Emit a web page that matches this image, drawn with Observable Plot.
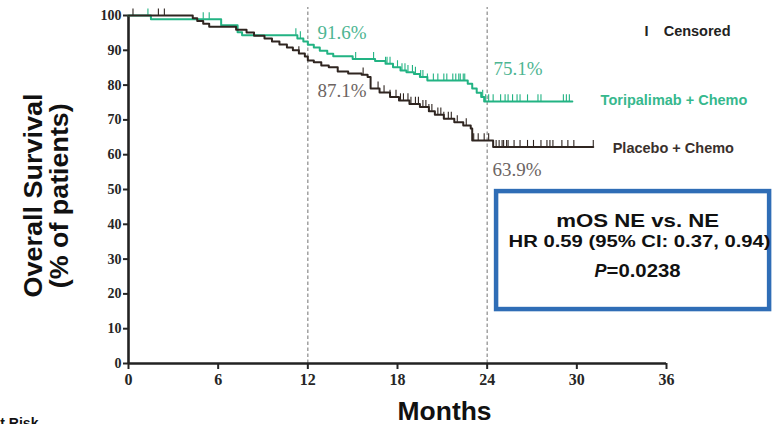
<!DOCTYPE html>
<html><head><meta charset="utf-8">
<script src="https://cdn.jsdelivr.net/npm/d3@7"></script>
<script src="https://cdn.jsdelivr.net/npm/@observablehq/plot@0.6"></script>
<style>body{margin:0;background:#fff;}</style>
</head><body><div id="chart"></div>
<script>
// ---- data ----
const months = [0, 6, 12, 18, 24, 30, 36];
const survivalTicks = [0, 10, 20, 30, 40, 50, 60, 70, 80, 90, 100];
const landmarkMonths = [12, 24];
const armNames = ["Toripalimab + Chemo", "Placebo + Chemo"];

const toriTimes = [0, 1.5, 6.2, 7.3, 7.6, 11.3, 11.7, 12.0, 12.4, 12.8, 13.3, 13.7, 15.0, 16.5, 17.2, 17.7, 18.2, 18.6, 19.1, 19.5, 20.0, 22.7, 23.0, 23.3, 23.6, 23.8];
const toriSurv  = [100, 98.9, 97.2, 95.2, 94.3, 93.4, 92.5, 91.6, 90.8, 89.9, 89.0, 88.3, 87.5, 86.9, 86.1, 85.1, 84.2, 83.7, 83.2, 82.3, 81.3, 80.4, 79.0, 77.8, 76.6, 75.3];
const toriLastFollowUp = 29.7;
const toriCensor = [1.3, 5.0, 5.4, 11.2, 11.5, 15.2, 16.4, 17.2, 17.3, 17.5, 18.0, 18.3, 18.5, 18.7, 19.0, 19.2, 19.55, 19.7, 20.0, 20.4, 20.7, 21.1, 21.3, 21.7, 21.9, 22.1, 22.2, 22.4, 22.5,
  23.7, 23.9, 24.1, 24.4, 24.9, 25.2, 25.4, 25.7, 26.0, 26.2, 26.7, 27.4, 27.6, 29.1, 29.3, 29.5];

const placTimes = [0, 4.3, 4.6, 5.0, 5.4, 7.2, 7.9, 8.4, 9.1, 9.6, 10.1, 10.6, 11.0, 11.4, 11.8, 12.0, 12.4, 12.9, 13.4, 14.0, 14.7, 15.6, 16.0, 16.2, 16.8, 17.5, 18.1, 18.8, 19.5, 20.1, 20.5, 21.1, 21.8, 22.4, 22.9, 23.0, 24.4];
const placSurv  = [100, 99.2, 98.4, 97.6, 96.8, 95.9, 95.1, 94.2, 93.4, 92.5, 91.7, 90.8, 90.0, 89.1, 88.2, 87.1, 86.6, 85.6, 85.1, 83.9, 83.3, 83.0, 82.3, 79.0, 77.9, 76.6, 75.6, 74.6, 73.7, 72.5, 71.5, 70.3, 69.3, 68.4, 67.5, 64.1, 62.2];
const placLastFollowUp = 31.1;
const placCensor = [0.3, 2.0, 2.4, 11.4, 15.7, 16.7, 17.1, 17.5, 17.9, 18.2, 18.4, 18.7, 18.9, 19.2, 19.4, 19.7, 19.9, 20.1, 20.3, 20.7, 20.9, 21.1, 21.4, 21.6, 22.0, 22.6, 23.1, 23.4, 23.8, 24.1,
  24.6, 24.8, 25.0, 25.1, 25.3, 25.4, 25.8, 26.2, 26.7, 27.1, 27.6, 28.0, 28.2, 28.4, 29.0, 29.4, 29.8, 31.1];

const toriLandmarkText = ["91.6%", "75.1%"];
const placLandmarkText = ["87.1%", "63.9%"];
const boxLines = ["mOS NE vs. NE", "HR 0.59 (95% CI: 0.37, 0.94)", "P", "=0.0238"];
const legendCensored = "Censored";
const axisTitles = ["Overall Survival", "(% of patients)", "Months", "at Risk"];

// ---- derived tables ----
function curve(times, surv, last) {
  const pts = times.map((t, i) => ({t, s: surv[i]}));
  pts.push({t: last, s: surv[surv.length - 1]});
  return pts;
}
function levelAt(times, surv, t) {
  let s = surv[0];
  for (let i = 0; i < times.length; i++) if (times[i] <= t) s = surv[i];
  return s;
}
const toriCurve = curve(toriTimes, toriSurv, toriLastFollowUp);
const placCurve = curve(placTimes, placSurv, placLastFollowUp);
const toriTicks = toriCensor.map(t => ({t, s: levelAt(toriTimes, toriSurv, t)}));
const placTicks = placCensor.map(t => ({t, s: levelAt(placTimes, placSurv, t)}));

const GREEN = "#22b383", GREEN_TXT = "#4db592", BLACK = "#2f2520", GRAY_TXT = "#6c6462", BLUE = "#2f6db6";
const SANS = "Liberation Sans, Arial, sans-serif", SERIF = "Liberation Serif, Times New Roman, serif";

const chart = Plot.plot({
  width: 772, height: 424,
  marginLeft: 128, marginRight: 106, marginTop: 15, marginBottom: 61,
  x: {domain: [0, 36]},
  y: {domain: [0, 100]},
  style: {background: "#fff"},
  marks: [
    Plot.ruleX(landmarkMonths, {y1: 0, y2: 102.3, stroke: "#8a8a8a", strokeWidth: 1.2, strokeDasharray: "3.5,2.5"}),
    Plot.axisX(months, {tickSize: 6, tickPadding: 4, strokeWidth: 2, color: "#262626", fontFamily: SERIF, fontWeight: "bold", fontSize: 16, label: null}),
    Plot.axisY(survivalTicks, {tickSize: 5, tickPadding: 2, strokeWidth: 2, color: "#262626", fontFamily: SERIF, fontWeight: "bold", fontSize: 14, label: null}),
    Plot.ruleY([0], {stroke: "#222", strokeWidth: 2.6}),
    Plot.ruleX([0], {stroke: "#222", strokeWidth: 2.6}),
    // curves
    Plot.line(toriCurve, {x: "t", y: "s", curve: "step-after", stroke: GREEN, strokeWidth: 2}),
    Plot.ruleX(toriTicks, {x: "t", y1: "s", y2: d => d.s + 1.9, stroke: GREEN, strokeWidth: 1.1}),
    Plot.line(placCurve, {x: "t", y: "s", curve: "step-after", stroke: BLACK, strokeWidth: 2}),
    Plot.ruleX(placTicks, {x: "t", y1: "s", y2: d => d.s + 1.9, stroke: BLACK, strokeWidth: 1.1}),
    // landmark labels
    Plot.text([toriLandmarkText[0]], {x: 12.65, y: 93.3, text: d => d, textAnchor: "start", lineAnchor: "bottom", fill: GREEN_TXT, fontFamily: SERIF, fontSize: 19}),
    Plot.text([placLandmarkText[0]], {x: 12.65, y: 76.5, text: d => d, textAnchor: "start", lineAnchor: "bottom", fill: GRAY_TXT, fontFamily: SERIF, fontSize: 19}),
    Plot.text([toriLandmarkText[1]], {x: 24.43, y: 82.8, text: d => d, textAnchor: "start", lineAnchor: "bottom", fill: GREEN_TXT, fontFamily: SERIF, fontSize: 19}),
    Plot.text([placLandmarkText[1]], {x: 24.36, y: 54.0, text: d => d, textAnchor: "start", lineAnchor: "bottom", fill: GRAY_TXT, fontFamily: SERIF, fontSize: 19}),
    // legend
    Plot.text(["I"], {x: 34.67, y: 94.25, text: d => d, textAnchor: "middle", lineAnchor: "bottom", fill: "#222", fontFamily: SANS, fontWeight: "bold", fontSize: 14.5}),
    Plot.text([legendCensored], {x: 35.81, y: 94.25, text: d => d, textAnchor: "start", lineAnchor: "bottom", fill: "#222", fontFamily: SANS, fontWeight: "bold", fontSize: 14.5}),
    Plot.text([armNames[0]], {x: 31.59, y: 74.4, text: d => d, textAnchor: "start", lineAnchor: "bottom", fill: "#36b88d", fontFamily: SANS, fontWeight: "bold", fontSize: 14.5}),
    Plot.text([armNames[1]], {x: 32.4, y: 60.6, text: d => d, textAnchor: "start", lineAnchor: "bottom", fill: "#3a302c", fontFamily: SANS, fontWeight: "bold", fontSize: 14.5}),
    // stats box
    Plot.rect([0], {x1: 24.63, x2: 42.9, y1: 15.5, y2: 49.4, fill: "none", stroke: BLUE, strokeWidth: 4.5}),
    Plot.text([boxLines[0]], {x: 34.07, y: 39.2, text: d => d, textAnchor: "middle", lineAnchor: "bottom", fill: "#111", fontFamily: SANS, fontWeight: "bold", fontSize: 19}),
    Plot.text([boxLines[1]], {x: 34.2, y: 33.4, text: d => d, textAnchor: "middle", lineAnchor: "bottom", fill: "#111", fontFamily: SANS, fontWeight: "bold", fontSize: 16.5}),
    Plot.text([boxLines[2]], {x: 31.99, y: 24.8, text: d => d, textAnchor: "end", lineAnchor: "bottom", fill: "#111", fontFamily: SANS, fontWeight: "bold", fontStyle: "italic", fontSize: 18}),
    Plot.text([boxLines[3]], {x: 31.99, y: 24.8, text: d => d, textAnchor: "start", lineAnchor: "bottom", fill: "#111", fontFamily: SANS, fontWeight: "bold", fontSize: 18}),
    // axis titles
    Plot.text([axisTitles[0]], {x: -5.76, y: 48.3, text: d => d, rotate: -90, textAnchor: "middle", lineAnchor: "bottom", fill: "#111", fontFamily: SANS, fontWeight: "bold", fontSize: 26}),
    Plot.text([axisTitles[1]], {x: -4.05, y: 48.2, text: d => d, rotate: -90, textAnchor: "middle", lineAnchor: "bottom", fill: "#111", fontFamily: SANS, fontWeight: "bold", fontSize: 26}),
    Plot.text([axisTitles[2]], {x: 21.15, y: -16.1, text: d => d, textAnchor: "middle", lineAnchor: "bottom", fill: "#111", fontFamily: SANS, fontWeight: "bold", fontSize: 25}),
    Plot.text([axisTitles[3]], {x: -9.1, y: -18.5, text: d => d, textAnchor: "start", lineAnchor: "bottom", fill: "#111", fontFamily: SANS, fontWeight: "bold", fontSize: 14})
  ]
});

// stretch some labels to match the (horizontally wide) lettering of the reference
const stretch = new Map([
  [boxLines[0], 163], [boxLines[1], 262], [boxLines[3], 74],
  [axisTitles[0], 204], [axisTitles[1], 185], [axisTitles[2], 94]
]);
d3.select(chart).selectAll("text").each(function () {
  const w = stretch.get(this.textContent);
  if (w) { this.setAttribute("textLength", w); this.setAttribute("lengthAdjust", "spacingAndGlyphs"); }
});
document.getElementById("chart").appendChild(chart);
</script>
</body></html>
